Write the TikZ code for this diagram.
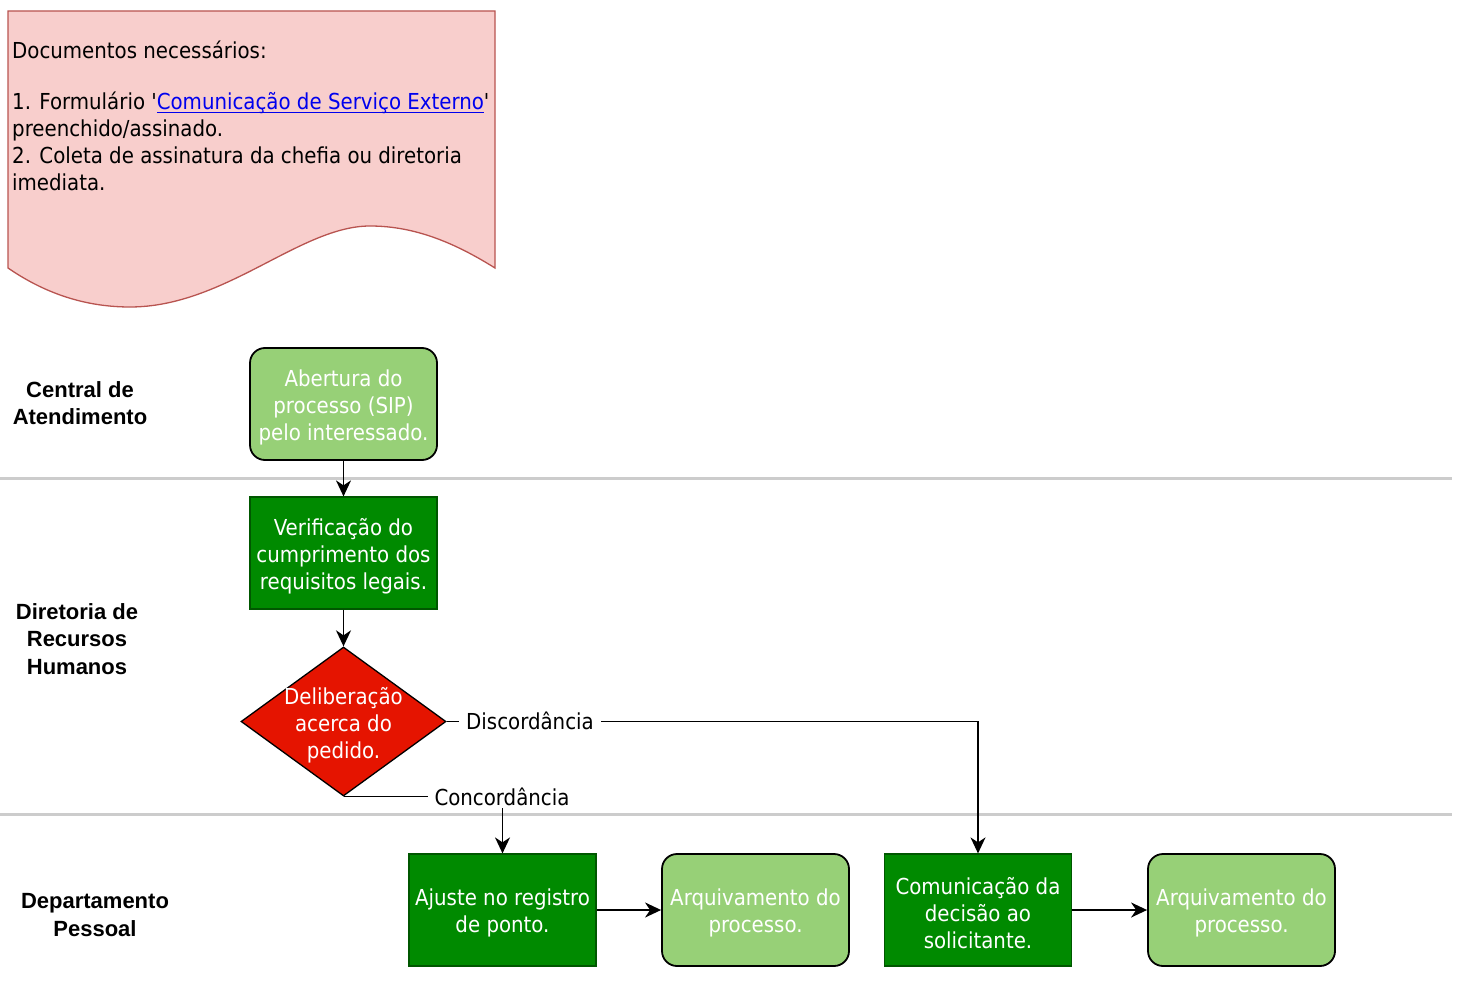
\documentclass[tikz,border=0pt]{standalone}
\usepackage{fontspec}
\setmainfont{DejaVu Sans Condensed}[Ligatures=TeXOff]
\newfontfamily\lanefont{Liberation Sans}
\usetikzlibrary{shapes.geometric,arrows.meta}
\definecolor{lgreen}{HTML}{97D077}
\definecolor{dgreen}{HTML}{008A00}
\definecolor{dgstroke}{HTML}{005700}
\definecolor{decred}{HTML}{E51400}
\definecolor{docfill}{HTML}{F8CECC}
\definecolor{docstroke}{HTML}{B85450}
\definecolor{lanegray}{HTML}{CCCCCC}
\definecolor{linkblue}{HTML}{0000EE}
\newcommand\mylinkul[1]{{\color{linkblue}\setbox0\hbox{#1}\rlap{\raisebox{-4pt}{\rule{\wd0}{1.5pt}}}\box0}}
\tikzset{
  boxbase/.style={minimum width=187pt, minimum height=112pt, inner sep=0pt},
  lnode/.style={boxbase, rounded corners=15pt, fill=lgreen, draw=black, line width=1.8pt},
  dnode/.style={boxbase, fill=dgreen, draw=dgstroke, line width=1.2pt},
  decnode/.style={diamond, fill=decred, draw=black, line width=1.3pt,
    minimum width=205pt, minimum height=149pt, inner sep=0pt},
  wtext/.style={font=\fontsize{22}{27}\selectfont, text=white, align=center, inner sep=0pt},
  arr/.style={-{Stealth[length=16pt,width=15pt,inset=5pt]}, line width=1.6pt},
  edgelab/.style={fill=white, text=black, font=\fontsize{22}{27}\selectfont, inner xsep=7pt, inner ysep=2pt},
  laneline/.style={draw=lanegray, line width=3pt},
  lanelab/.style={font=\lanefont\bfseries\fontsize{22}{27.5}\selectfont, align=center, inner sep=0pt}
}
\begin{document}
\begin{tikzpicture}[x=1pt,y=-1pt]
\useasboundingbox (0,0) rectangle (1463,1008);
% lane separators
\draw[laneline] (0,478) -- (1452,478);
\draw[laneline] (0,814) -- (1452,814);
% document shape
\draw[fill=docfill, draw=docstroke, line width=1.3pt]
  (8,11) -- (495,11) -- (495,268)
  .. controls (455,243) and (415,226) .. (370,226)
  .. controls (300,226) and (225,307) .. (130,307)
  .. controls (80,307) and (40,290) .. (8,268) -- cycle;
\node[anchor=north west, align=left, inner sep=0pt, font=\fontsize{22}{27}\selectfont] (doctxt) at (12,40.5)
  {Documentos necessários:\\[24pt]
   1. Formulário '\mylinkul{Comunicação de Serviço Externo}'\\
   preenchido/assinado.\\
   2. Coleta de assinatura da chefia ou diretoria\\
   imediata.};
% lane labels
\node[lanelab] (l1) at (80,403) {Central de\\Atendimento};
\node[lanelab] (l2) at (77,639) {Diretoria de\\Recursos\\Humanos};
\node[lanelab] (l3) at (95,915) {Departamento\\Pessoal};
% nodes
\node[lnode] (a) at (343.5,404) {};
\node[wtext] (at) at (343.5,407) {Abertura do\\processo (SIP)\\pelo interessado.};
\node[dnode] (b) at (343.5,553) {};
\node[wtext] (bt) at (343.5,556) {Verificação do\\cumprimento dos\\requisitos legais.};
\node[decnode] (d) at (343.5,721.5) {};
\node[wtext] (dt) at (343.5,725) {Deliberação\\acerca do\\pedido.};
\node[dnode] (aj) at (502.5,910) {};
\node[wtext] (ajt) at (502.5,913) {Ajuste no registro\\de ponto.};
\node[lnode] (q1) at (755.5,910) {};
\node[wtext] (q1t) at (755.5,913) {Arquivamento do\\processo.};
\node[dnode] (com) at (978,910) {};
\node[wtext] (comt) at (978,913) {Comunicação da\\decisão ao\\solicitante.};
\node[lnode] (q2) at (1241.5,910) {};
\node[wtext] (q2t) at (1241.5,913) {Arquivamento do\\processo.};
% edges
\draw[arr] (a.south) -- (b.north);
\draw[arr] (b.south) -- (d.north);
\draw[arr] (d.east) -| (com.north);
\draw[arr] (d.south) -| (aj.north);
\draw[arr] (aj.east) -- (q1.west);
\draw[arr] (com.east) -- (q2.west);
% edge labels
\node[edgelab] (ldisc) at (530,721) {Discordância};
\node[edgelab] (lconc) at (502,797) {Concordância};
\end{tikzpicture}
\end{document}
